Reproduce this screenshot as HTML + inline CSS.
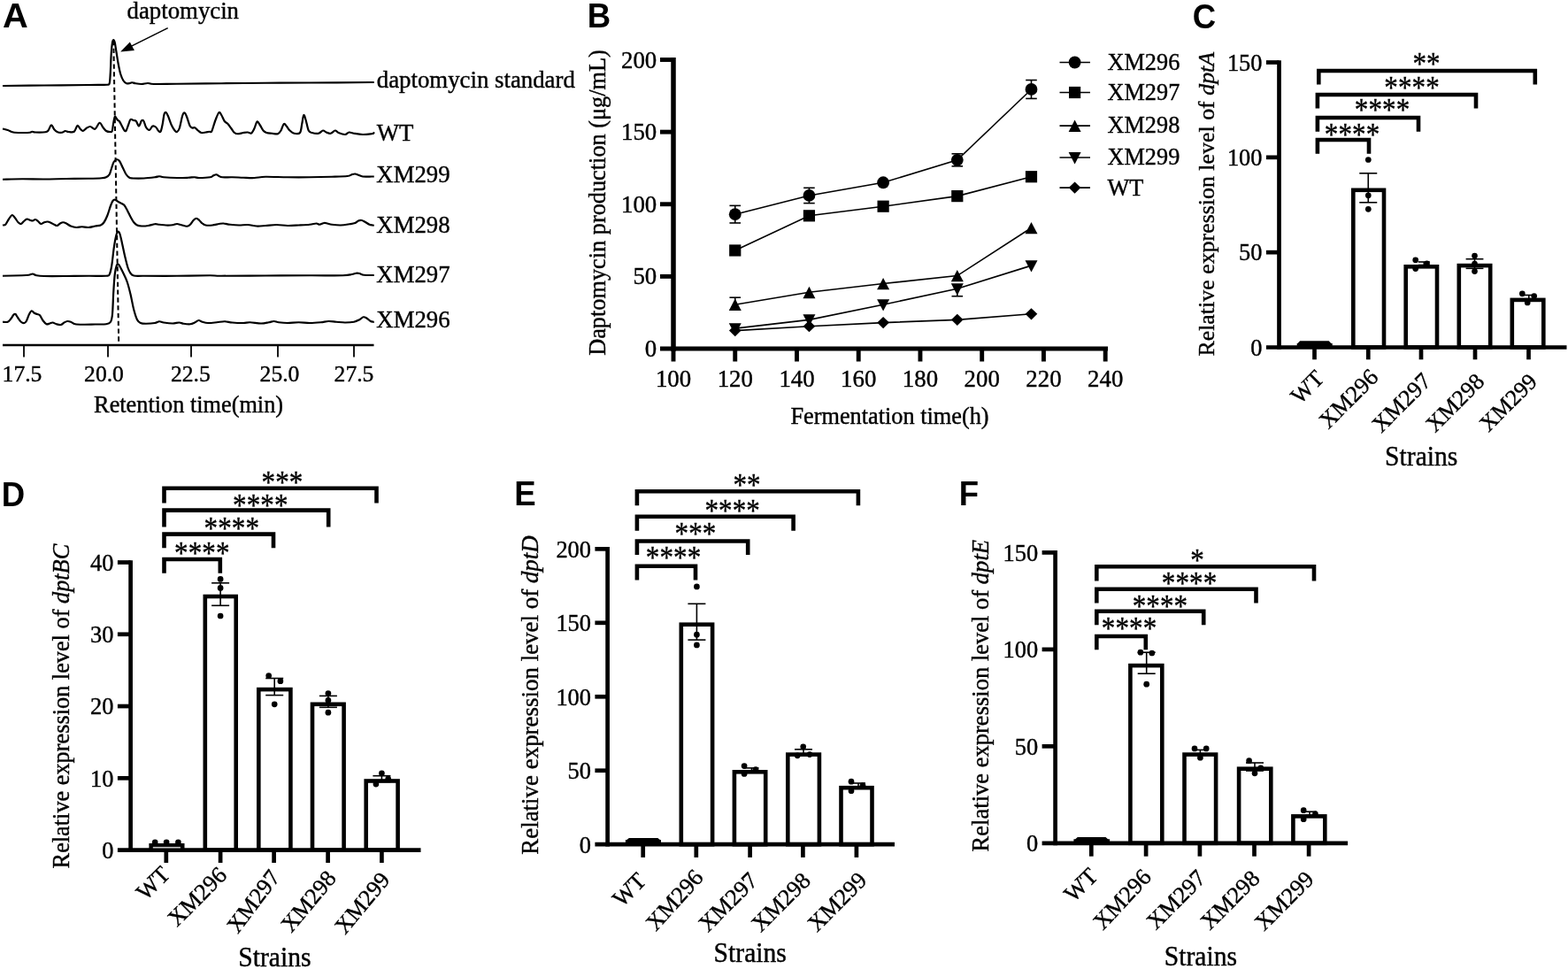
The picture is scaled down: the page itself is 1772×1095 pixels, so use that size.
<!DOCTYPE html>
<html lang="en"><head><meta charset="utf-8"><title>Daptomycin production and dpt gene expression</title>
<style>
html,body{margin:0;padding:0;background:#fff;}
svg{display:block;}
.s{font-family:"Liberation Serif","Times New Roman",Times,serif;fill:#000000;stroke:#000000;stroke-width:0.4px;}
.b{font-family:"Liberation Sans",Arial,Helvetica,sans-serif;font-weight:bold;fill:#000000;stroke:none;}
.i{font-style:italic;}
</style></head><body>
<svg width="1772" height="1095" viewBox="0 0 1772 1095" stroke="#000000" fill="none">
<rect x="0" y="0" width="1772" height="1095" fill="#ffffff" stroke="none"/>
<text class="b" transform="translate(3.1 30.8) scale(1.04 1)" font-size="38.3">A</text>
<text class="b" transform="translate(663.75 31.0) scale(0.955 1)" font-size="38.3">B</text>
<text class="b" transform="translate(1347.65 31.6) scale(0.955 1)" font-size="38.3">C</text>
<text class="b" transform="translate(1.8499999999999999 571.5) scale(0.955 1)" font-size="38.3">D</text>
<text class="b" transform="translate(581.15 571.3) scale(0.955 1)" font-size="38.3">E</text>
<text class="b" transform="translate(1083.75 571.3) scale(0.955 1)" font-size="38.3">F</text>
<g id="panelA">
<path d="M3 97C10.83 96.92 33.83 96.67 50 96.5C66.17 96.33 88.12 96.12 100 96C111.88 95.88 117.29 96.08 121.25 95.75C123.75 95.54 123.17 96.21 123.75 94C124.33 91.79 124.42 88.17 124.75 82.5C125.08 76.83 125.38 65.75 125.75 60C126.12 54.25 126.58 50.5 127 48C127.42 45.5 127.79 45 128.25 45C128.71 45 129.21 45.71 129.75 48C130.29 50.29 130.83 54.67 131.5 58.75C132.17 62.83 132.96 68.33 133.75 72.5C134.54 76.67 135.29 80.62 136.25 83.75C137.21 86.88 138.38 89.5 139.5 91.25C140.62 93 141.75 93.79 143 94.25C144.25 94.71 145.92 94.17 147 94C148.08 93.83 148.5 93.21 149.5 93.25C150.5 93.29 151.25 93.96 153 94.25C154.75 94.54 157.67 95.04 160 95C162.33 94.96 164.71 94 167 94C169.29 94 168.25 94.88 173.75 95C179.25 95.12 187.29 94.88 200 94.75C212.71 94.62 233.33 94.42 250 94.25C266.67 94.08 283.33 93.88 300 93.75C316.67 93.62 330 93.62 350 93.5C370 93.38 407.88 93.08 420 93C422.75 92.98 422.29 93 422.75 93" fill="none" stroke-width="2.2" stroke-linejoin="round" stroke-linecap="butt"/>
<path d="M3 145.5C3.96 145.75 6.75 146.33 8.75 147C10.75 147.67 12.29 149 15 149.5C17.71 150 21.88 149.96 25 150C28.12 150.04 31.88 149.96 33.75 149.75C35.62 149.54 35.21 148.79 36.25 148.75C37.29 148.71 37.5 149.42 40 149.5C42.5 149.58 48.83 149.58 51.25 149.25C53.67 148.92 53.38 148.83 54.5 147.5C55.62 146.17 56.88 141.46 58 141.25C59.12 141.04 60.08 144.92 61.25 146.25C62.42 147.58 63.54 148.67 65 149.25C66.46 149.83 68.54 149.96 70 149.75C71.46 149.54 72.5 148.12 73.75 148C75 147.88 75.83 148.88 77.5 149C79.17 149.12 82.08 149.92 83.75 148.75C85.42 147.58 86.33 142.5 87.5 142C88.67 141.5 89.71 144.75 90.75 145.75C91.79 146.75 92.62 148.12 93.75 148C94.88 147.88 96.12 145.83 97.5 145C98.88 144.17 100.33 142.88 102 143C103.67 143.12 105.75 146.46 107.5 145.75C109.25 145.04 111.04 139.08 112.5 138.75C113.96 138.42 115 142.21 116.25 143.75C117.5 145.29 118.62 147.12 120 148C121.38 148.88 123.38 149 124.5 149C125.62 149 126.17 149.5 126.75 148C127.33 146.5 127.5 142.67 128 140C128.5 137.33 129.21 133.12 129.75 132C130.29 130.88 130.71 132.62 131.25 133.25C131.79 133.88 132.38 135.08 133 135.75C133.62 136.42 134.17 136.08 135 137.25C135.83 138.42 137.08 141.08 138 142.75C138.92 144.42 139.75 146.42 140.5 147.25C141.25 148.08 141.75 148.75 142.5 147.75C143.25 146.75 144.17 143.38 145 141.25C145.83 139.12 146.54 135.88 147.5 135C148.46 134.12 149.71 135.71 150.75 136C151.79 136.29 152.71 135.67 153.75 136.75C154.79 137.83 155.96 142.58 157 142.5C158.04 142.42 159.08 137.17 160 136.25C160.92 135.33 161.67 135.75 162.5 137C163.33 138.25 163.96 142.08 165 143.75C166.04 145.42 167.5 147.21 168.75 147C170 146.79 171.25 143.04 172.5 142.5C173.75 141.96 175.21 142.92 176.25 143.75C177.29 144.58 177.88 146.67 178.75 147.5C179.62 148.33 180.67 150 181.5 148.75C182.33 147.5 183.08 143.25 183.75 140C184.42 136.75 184.88 131.42 185.5 129.25C186.12 127.08 186.75 126.67 187.5 127C188.25 127.33 188.96 128.88 190 131.25C191.04 133.62 192.5 138.54 193.75 141.25C195 143.96 196.46 146.21 197.5 147.5C198.54 148.79 199.12 149.42 200 149C200.88 148.58 201.71 148.08 202.75 145C203.79 141.92 205.25 133.42 206.25 130.5C207.25 127.58 207.92 127.17 208.75 127.5C209.58 127.83 210.29 130.08 211.25 132.5C212.21 134.92 213.5 140 214.5 142C215.5 144 216.29 144.12 217.25 144.5C218.21 144.88 219.17 143.75 220.25 144.25C221.33 144.75 222.54 146.54 223.75 147.5C224.96 148.46 226.04 149.67 227.5 150C228.96 150.33 231.04 149.71 232.5 149.5C233.96 149.29 235.17 148.88 236.25 148.75C237.33 148.62 238.17 149.79 239 148.75C239.83 147.71 240.46 144.79 241.25 142.5C242.04 140.21 242.71 137.58 243.75 135C244.79 132.42 246.42 127.83 247.5 127C248.58 126.17 249.21 128.33 250.25 130C251.29 131.67 252.54 135.33 253.75 137C254.96 138.67 256.25 138.67 257.5 140C258.75 141.33 260 143.33 261.25 145C262.5 146.67 263.75 148.96 265 150C266.25 151.04 267.08 151.25 268.75 151.25C270.42 151.25 273.12 150.29 275 150C276.88 149.71 278.5 149.42 280 149.5C281.5 149.58 282.75 151.25 284 150.5C285.25 149.75 286.42 147.17 287.5 145C288.58 142.83 289.46 138.12 290.5 137.5C291.54 136.88 292.58 139.58 293.75 141.25C294.92 142.92 296.25 146.04 297.5 147.5C298.75 148.96 299.58 149.46 301.25 150C302.92 150.54 305.38 150.54 307.5 150.75C309.62 150.96 312.33 151.79 314 151.25C315.67 150.71 316.38 149.38 317.5 147.5C318.62 145.62 319.71 140.83 320.75 140C321.79 139.17 322.62 141.25 323.75 142.5C324.88 143.75 326.04 146.12 327.5 147.5C328.96 148.88 330.58 150.33 332.5 150.75C334.42 151.17 337.54 151.79 339 150C340.46 148.21 340.54 143.33 341.25 140C341.96 136.67 342.5 130.62 343.25 130C344 129.38 344.83 133.33 345.75 136.25C346.67 139.17 347.62 145.21 348.75 147.5C349.88 149.79 350.62 149.46 352.5 150C354.38 150.54 357.92 151.17 360 150.75C362.08 150.33 363.54 147.71 365 147.5C366.46 147.29 367.29 148.96 368.75 149.5C370.21 150.04 372.08 151.08 373.75 150.75C375.42 150.42 377.29 147.62 378.75 147.5C380.21 147.38 380.62 149.25 382.5 150C384.38 150.75 388 152.08 390 152C392 151.92 392.83 149.71 394.5 149.5C396.17 149.29 397.42 150.33 400 150.75C402.58 151.17 406.67 151.92 410 152C413.33 152.08 418 151.46 420 151.25C422 151.04 421.54 151.08 422 150.75C422.46 150.42 422.62 149.5 422.75 149.25" fill="none" stroke-width="2.2" stroke-linejoin="round" stroke-linecap="butt"/>
<path d="M3 202.75C6.67 202.67 17.17 202.29 25 202.25C32.83 202.21 41.67 202.54 50 202.5C58.33 202.46 66.67 202.12 75 202C83.33 201.88 93.33 201.88 100 201.75C106.67 201.62 111.67 201.5 115 201.25C118.33 201 118.54 200.96 120 200.25C121.46 199.54 122.71 198.79 123.75 197C124.79 195.21 125.42 191.88 126.25 189.5C127.08 187.12 127.79 184.29 128.75 182.75C129.71 181.21 130.96 180.38 132 180.25C133.04 180.12 133.88 180.46 135 182C136.12 183.54 137.5 187 138.75 189.5C140 192 141.25 195.12 142.5 197C143.75 198.88 145 200 146.25 200.75C147.5 201.5 147.29 201.38 150 201.5C152.71 201.62 158.33 201.71 162.5 201.5C166.67 201.29 172.08 200.62 175 200.25C177.92 199.88 178.33 199.25 180 199.25C181.67 199.25 181.67 199.96 185 200.25C188.33 200.54 195.42 200.92 200 201C204.58 201.08 209.17 200.88 212.5 200.75C215.83 200.62 217.92 200.21 220 200.25C222.08 200.29 222.08 201 225 201C227.92 201 234.79 200.71 237.5 200.25C240.21 199.79 240.08 198.75 241.25 198.25C242.42 197.75 243.46 197.12 244.5 197.25C245.54 197.38 246.38 198.5 247.5 199C248.62 199.5 248.75 200.04 251.25 200.25C253.75 200.46 258.54 200.17 262.5 200.25C266.46 200.33 270.83 200.62 275 200.75C279.17 200.88 283.33 201.17 287.5 201C291.67 200.83 293.75 199.88 300 199.75C306.25 199.62 316.67 200.17 325 200.25C333.33 200.33 341.67 200.33 350 200.25C358.33 200.17 367.92 199.96 375 199.75C382.08 199.54 388.75 199.42 392.5 199C396.25 198.58 396.04 197.67 397.5 197.25C398.96 196.83 400 196.42 401.25 196.5C402.5 196.58 403.54 197.25 405 197.75C406.46 198.25 407.5 199.21 410 199.5C412.5 199.79 417.88 199.5 420 199.5C422.12 199.5 422.29 199.5 422.75 199.5" fill="none" stroke-width="2.2" stroke-linejoin="round" stroke-linecap="butt"/>
<path d="M3 254.5C3.54 254.38 5.08 254.92 6.25 253.75C7.42 252.58 8.75 249.29 10 247.5C11.25 245.71 12.58 243.21 13.75 243C14.92 242.79 15.88 244.88 17 246.25C18.12 247.62 19.38 250.12 20.5 251.25C21.62 252.38 22.67 253.21 23.75 253C24.83 252.79 25.88 250.92 27 250C28.12 249.08 29.38 247.71 30.5 247.5C31.62 247.29 32.67 248.42 33.75 248.75C34.83 249.08 35.96 249.62 37 249.5C38.04 249.38 39 247.92 40 248C41 248.08 41.96 249.17 43 250C44.04 250.83 45.08 252.79 46.25 253C47.42 253.21 48.75 251.67 50 251.25C51.25 250.83 52.5 250.42 53.75 250.5C55 250.58 56.25 251.21 57.5 251.75C58.75 252.29 60.08 253.21 61.25 253.75C62.42 254.29 63.38 255.21 64.5 255C65.62 254.79 66.88 253.12 68 252.5C69.12 251.88 70.08 251.25 71.25 251.25C72.42 251.25 73.54 251.79 75 252.5C76.46 253.21 78.12 254.75 80 255.5C81.88 256.25 84.17 256.88 86.25 257C88.33 257.12 90.21 256.25 92.5 256.25C94.79 256.25 97.5 257.12 100 257C102.5 256.88 105.21 255.92 107.5 255.5C109.79 255.08 112.08 255.21 113.75 254.5C115.42 253.79 116.25 253.04 117.5 251.25C118.75 249.46 120 246.88 121.25 243.75C122.5 240.62 123.96 235.29 125 232.5C126.04 229.71 126.67 228.12 127.5 227C128.33 225.88 128.96 225.58 130 225.75C131.04 225.92 132.5 227.29 133.75 228C135 228.71 136.38 229.33 137.5 230C138.62 230.67 139.46 230.75 140.5 232C141.54 233.25 142.58 235.33 143.75 237.5C144.92 239.67 146.25 242.71 147.5 245C148.75 247.29 150 249.67 151.25 251.25C152.5 252.83 153.54 253.79 155 254.5C156.46 255.21 157.92 255.42 160 255.5C162.08 255.58 165 255.38 167.5 255C170 254.62 172.92 253.46 175 253.25C177.08 253.04 177.92 253.54 180 253.75C182.08 253.96 185 254.42 187.5 254.5C190 254.58 192.92 254.5 195 254.25C197.08 254 198.33 253 200 253C201.67 253 203.12 253.79 205 254.25C206.88 254.71 209.58 255.83 211.25 255.75C212.92 255.67 213.75 254.92 215 253.75C216.25 252.58 217.58 249.92 218.75 248.75C219.92 247.58 220.96 246.75 222 246.75C223.04 246.75 223.88 247.79 225 248.75C226.12 249.71 227.5 251.54 228.75 252.5C230 253.46 230.62 254.17 232.5 254.5C234.38 254.83 237.5 254.75 240 254.5C242.5 254.25 245.42 253.33 247.5 253C249.58 252.67 250.42 252.38 252.5 252.5C254.58 252.62 257.08 253.42 260 253.75C262.92 254.08 266.67 254.46 270 254.5C273.33 254.54 276.67 253.83 280 254C283.33 254.17 286.67 255.33 290 255.5C293.33 255.67 296.25 255.25 300 255C303.75 254.75 308.33 254 312.5 254C316.67 254 320.83 254.92 325 255C329.17 255.08 333.33 254.71 337.5 254.5C341.67 254.29 346.67 254.08 350 253.75C353.33 253.42 355.62 252.5 357.5 252.5C359.38 252.5 359.79 253.83 361.25 253.75C362.71 253.67 364.79 252.21 366.25 252C367.71 251.79 368.54 252.21 370 252.5C371.46 252.79 372.5 253.42 375 253.75C377.5 254.08 381.67 254.58 385 254.5C388.33 254.42 392.29 253.67 395 253.25C397.71 252.83 399.58 252.62 401.25 252C402.92 251.38 403.75 250 405 249.5C406.25 249 407.5 248.79 408.75 249C410 249.21 411.04 249.96 412.5 250.75C413.96 251.54 416.04 253.12 417.5 253.75C418.96 254.38 420.38 254.33 421.25 254.5C422.12 254.67 422.5 254.71 422.75 254.75" fill="none" stroke-width="2.2" stroke-linejoin="round" stroke-linecap="butt"/>
<path d="M3 311.75C6.67 311.67 20.08 311.42 25 311.25C29.92 311.08 30.5 311.04 32.5 310.75C34.5 310.46 35.54 309.42 37 309.5C38.46 309.58 39.08 310.83 41.25 311.25C43.42 311.67 44.38 311.88 50 312C55.62 312.12 66.67 312.04 75 312C83.33 311.96 92.5 311.79 100 311.75C107.5 311.71 116.04 312.04 120 311.75C123.75 311.47 122.71 311.96 123.75 310C124.79 308.04 125.42 305 126.25 300C127.08 295 127.92 285.62 128.75 280C129.58 274.38 130.5 269.29 131.25 266.25C132 263.21 132.54 262.04 133.25 261.75C133.96 261.46 134.71 262.29 135.5 264.5C136.29 266.71 137.04 270.75 138 275C138.96 279.25 140.17 285.42 141.25 290C142.33 294.58 143.46 299.38 144.5 302.5C145.54 305.62 146.38 307.25 147.5 308.75C148.62 310.25 148.75 311 151.25 311.5C153.75 312 154.38 311.71 162.5 311.75C170.62 311.79 187.5 311.83 200 311.75C212.5 311.67 229.17 311.25 237.5 311.25C245.83 311.25 239.58 311.71 250 311.75C260.42 311.79 283.33 311.58 300 311.5C316.67 311.42 335.42 311.29 350 311.25C364.58 311.21 379.58 311.46 387.5 311.25C395.42 311.04 395 310.42 397.5 310C400 309.58 401.04 308.92 402.5 308.75C403.96 308.58 404.79 308.67 406.25 309C407.71 309.33 408.75 310.42 411.25 310.75C413.75 311.08 419.33 310.96 421.25 311C422.75 311.03 422.5 311 422.75 311" fill="none" stroke-width="2.2" stroke-linejoin="round" stroke-linecap="butt"/>
<path d="M3 363.75C3.96 363.75 7.17 364.38 8.75 363.75C10.33 363.12 11.38 361.38 12.5 360C13.62 358.62 14.67 356.33 15.5 355.5C16.33 354.67 16.75 354.46 17.5 355C18.25 355.54 18.96 357.29 20 358.75C21.04 360.21 22.5 362.71 23.75 363.75C25 364.79 26.46 365.21 27.5 365C28.54 364.79 29.08 364.17 30 362.5C30.92 360.83 32.04 356.88 33 355C33.96 353.12 34.79 351.46 35.75 351.25C36.71 351.04 37.71 353.12 38.75 353.75C39.79 354.38 40.96 354.58 42 355C43.04 355.42 43.88 355 45 356.25C46.12 357.5 47.5 360.83 48.75 362.5C50 364.17 51.25 365.75 52.5 366.25C53.75 366.75 55.08 365.79 56.25 365.5C57.42 365.21 58.25 364.38 59.5 364.5C60.75 364.62 62.21 365.83 63.75 366.25C65.29 366.67 67.29 367.29 68.75 367C70.21 366.71 71.25 365.17 72.5 364.5C73.75 363.83 75 363.12 76.25 363C77.5 362.88 78.54 363.21 80 363.75C81.46 364.29 82.5 365.75 85 366.25C87.5 366.75 91.25 366.71 95 366.75C98.75 366.79 103.33 366.58 107.5 366.5C111.67 366.42 117.08 366.71 120 366.25C122.92 365.79 123.83 365.62 125 363.75C126.17 361.88 126.46 360.62 127 355C127.54 349.38 127.79 337.5 128.25 330C128.71 322.5 129.17 315 129.75 310C130.33 305 131.08 301.88 131.75 300C132.42 298.12 133 298.33 133.75 298.75C134.5 299.17 135.21 300.62 136.25 302.5C137.29 304.38 138.75 307.29 140 310C141.25 312.71 142.5 315 143.75 318.75C145 322.5 146.25 327.29 147.5 332.5C148.75 337.71 150 345.21 151.25 350C152.5 354.79 153.75 358.75 155 361.25C156.25 363.75 157.08 364.25 158.75 365C160.42 365.75 162.29 365.75 165 365.75C167.71 365.75 172.5 365.42 175 365C177.5 364.58 178.33 363.33 180 363.25C181.67 363.17 182.5 364.12 185 364.5C187.5 364.88 192.08 365.5 195 365.5C197.92 365.5 200.42 364.46 202.5 364.5C204.58 364.54 205.42 365.46 207.5 365.75C209.58 366.04 212.92 366.46 215 366.25C217.08 366.04 218.42 365.21 220 364.5C221.58 363.79 223.04 362.12 224.5 362C225.96 361.88 227 363.25 228.75 363.75C230.5 364.25 232.29 364.92 235 365C237.71 365.08 241.88 364.54 245 364.25C248.12 363.96 250.83 363.21 253.75 363.25C256.67 363.29 258.96 364.21 262.5 364.5C266.04 364.79 271.67 365.04 275 365C278.33 364.96 279.17 364.17 282.5 364.25C285.83 364.33 291.46 365.5 295 365.5C298.54 365.5 301.33 364.67 303.75 364.25C306.17 363.83 307.62 363 309.5 363C311.38 363 312.42 363.92 315 364.25C317.58 364.58 321.25 365 325 365C328.75 365 333.33 364.25 337.5 364.25C341.67 364.25 345.83 365 350 365C354.17 365 358.96 364.58 362.5 364.25C366.04 363.92 368.33 363.08 371.25 363C374.17 362.92 376.88 363.5 380 363.75C383.12 364 386.67 364.5 390 364.5C393.33 364.5 397.29 364.29 400 363.75C402.71 363.21 404.46 362.17 406.25 361.25C408.04 360.33 409.29 358.46 410.75 358.25C412.21 358.04 413.67 359.21 415 360C416.33 360.79 417.58 362.38 418.75 363C419.92 363.62 421.33 363.62 422 363.75C422.67 363.88 422.62 363.75 422.75 363.75" fill="none" stroke-width="2.2" stroke-linejoin="round" stroke-linecap="butt"/>
<line x1="128.3" y1="46" x2="134.2" y2="388" stroke-width="2" stroke-dasharray="5.3 3.5"/>
<line x1="189.7" y1="31.6" x2="145" y2="53.9" stroke-width="1.6"/>
<polygon points="136.1,58.4 151.9,57 146.8,47.4" fill="#000000" stroke="none"/>
<line x1="3" y1="390" x2="422.5" y2="390" stroke-width="2.3"/>
<line x1="27" y1="390" x2="27" y2="403.5" stroke-width="1.8"/>
<line x1="122" y1="390" x2="122" y2="403.5" stroke-width="1.8"/>
<line x1="216" y1="390" x2="216" y2="403.5" stroke-width="1.8"/>
<line x1="314" y1="390" x2="314" y2="403.5" stroke-width="1.8"/>
<line x1="400" y1="390" x2="400" y2="403.5" stroke-width="1.8"/>
<text class="s" x="25" y="430.6" font-size="25.6" text-anchor="middle">17.5</text>
<text class="s" x="117.5" y="430.6" font-size="25.6" text-anchor="middle">20.0</text>
<text class="s" x="215.4" y="430.6" font-size="25.6" text-anchor="middle">22.5</text>
<text class="s" x="316" y="430.6" font-size="25.6" text-anchor="middle">25.0</text>
<text class="s" x="400" y="430.6" font-size="25.6" text-anchor="middle">27.5</text>
<text class="s" x="213.1" y="466.2" font-size="26.3" text-anchor="middle">Retention time(min)</text>
<text class="s" x="143.5" y="21.1" font-size="26.8">daptomycin</text>
<text class="s" x="425.8" y="99.2" font-size="26.8">daptomycin standard</text>
<text class="s" x="425.8" y="159.3" font-size="26.8">WT</text>
<text class="s" x="425.3" y="205.6" font-size="26.8">XM299</text>
<text class="s" x="425.3" y="262.8" font-size="26.8">XM298</text>
<text class="s" x="425.3" y="319.2" font-size="26.8">XM297</text>
<text class="s" x="425.3" y="370.3" font-size="26.8">XM296</text>
</g>
<g id="panelB">
<line x1="761" y1="65.05" x2="761" y2="396.75" stroke-width="5.5"/>
<line x1="746" y1="394" x2="1252" y2="394" stroke-width="5.1"/>
<line x1="746" y1="312.38" x2="761" y2="312.38" stroke-width="4.9"/>
<line x1="746" y1="230.75" x2="761" y2="230.75" stroke-width="4.9"/>
<line x1="746" y1="149.12" x2="761" y2="149.12" stroke-width="4.9"/>
<line x1="746" y1="67.5" x2="761" y2="67.5" stroke-width="4.9"/>
<line x1="761" y1="394" x2="761" y2="408.5" stroke-width="4.9"/>
<line x1="830.74" y1="394" x2="830.74" y2="408.5" stroke-width="4.9"/>
<line x1="900.48" y1="394" x2="900.48" y2="408.5" stroke-width="4.9"/>
<line x1="970.22" y1="394" x2="970.22" y2="408.5" stroke-width="4.9"/>
<line x1="1039.96" y1="394" x2="1039.96" y2="408.5" stroke-width="4.9"/>
<line x1="1109.7" y1="394" x2="1109.7" y2="408.5" stroke-width="4.9"/>
<line x1="1179.44" y1="394" x2="1179.44" y2="408.5" stroke-width="4.9"/>
<line x1="1249.18" y1="394" x2="1249.18" y2="408.5" stroke-width="4.9"/>
<text class="s" x="742.2" y="403" font-size="26.8" text-anchor="end">0</text>
<text class="s" x="742.2" y="321.38" font-size="26.8" text-anchor="end">50</text>
<text class="s" x="742.2" y="239.75" font-size="26.8" text-anchor="end">100</text>
<text class="s" x="742.2" y="158.12" font-size="26.8" text-anchor="end">150</text>
<text class="s" x="742.2" y="76.5" font-size="26.8" text-anchor="end">200</text>
<text class="s" x="761" y="437.4" font-size="26.8" text-anchor="middle">100</text>
<text class="s" x="830.74" y="437.4" font-size="26.8" text-anchor="middle">120</text>
<text class="s" x="900.48" y="437.4" font-size="26.8" text-anchor="middle">140</text>
<text class="s" x="970.22" y="437.4" font-size="26.8" text-anchor="middle">160</text>
<text class="s" x="1039.96" y="437.4" font-size="26.8" text-anchor="middle">180</text>
<text class="s" x="1109.7" y="437.4" font-size="26.8" text-anchor="middle">200</text>
<text class="s" x="1179.44" y="437.4" font-size="26.8" text-anchor="middle">220</text>
<text class="s" x="1249.18" y="437.4" font-size="26.8" text-anchor="middle">240</text>
<text class="s" x="1005.5" y="478.5" font-size="26.3" text-anchor="middle">Fermentation time(h)</text>
<text class="s" transform="translate(683.5 229) rotate(-90)" font-size="26.3" text-anchor="middle">Daptomycin production (μg/mL)</text>
<polyline points="830.74,242.18 914.43,220.95 998.12,206.26 1081.8,180.8 1165.49,100.97" stroke-width="1.6" fill="none"/>
<line x1="830.74" y1="232.38" x2="830.74" y2="251.97" stroke-width="1.6"/>
<line x1="824.44" y1="232.38" x2="837.04" y2="232.38" stroke-width="1.6"/>
<line x1="824.44" y1="251.97" x2="837.04" y2="251.97" stroke-width="1.6"/>
<line x1="914.43" y1="212.3" x2="914.43" y2="229.61" stroke-width="1.6"/>
<line x1="908.13" y1="212.3" x2="920.73" y2="212.3" stroke-width="1.6"/>
<line x1="908.13" y1="229.61" x2="920.73" y2="229.61" stroke-width="1.6"/>
<line x1="1081.8" y1="173.78" x2="1081.8" y2="187.82" stroke-width="1.6"/>
<line x1="1075.5" y1="173.78" x2="1088.1" y2="173.78" stroke-width="1.6"/>
<line x1="1075.5" y1="187.82" x2="1088.1" y2="187.82" stroke-width="1.6"/>
<line x1="1165.49" y1="90.52" x2="1165.49" y2="111.41" stroke-width="1.6"/>
<line x1="1159.19" y1="90.52" x2="1171.79" y2="90.52" stroke-width="1.6"/>
<line x1="1159.19" y1="111.41" x2="1171.79" y2="111.41" stroke-width="1.6"/>
<circle cx="830.74" cy="242.18" r="6.9" fill="#000000" stroke="none"/>
<circle cx="914.43" cy="220.95" r="6.9" fill="#000000" stroke="none"/>
<circle cx="998.12" cy="206.26" r="6.9" fill="#000000" stroke="none"/>
<circle cx="1081.8" cy="180.8" r="6.9" fill="#000000" stroke="none"/>
<circle cx="1165.49" cy="100.97" r="6.9" fill="#000000" stroke="none"/>
<polyline points="830.74,282.99 914.43,243.81 998.12,233.2 1081.8,221.61 1165.49,199.73" stroke-width="1.6" fill="none"/>
<rect x="824.14" y="276.39" width="13.2" height="13.2" fill="#000000" stroke="none"/>
<rect x="907.83" y="237.21" width="13.2" height="13.2" fill="#000000" stroke="none"/>
<rect x="991.52" y="226.6" width="13.2" height="13.2" fill="#000000" stroke="none"/>
<rect x="1075.2" y="215.01" width="13.2" height="13.2" fill="#000000" stroke="none"/>
<rect x="1158.89" y="193.13" width="13.2" height="13.2" fill="#000000" stroke="none"/>
<polyline points="830.74,344.21 914.43,330.33 998.12,320.54 1081.8,311.56 1165.49,257.52" stroke-width="1.6" fill="none"/>
<line x1="830.74" y1="336.21" x2="830.74" y2="344.21" stroke-width="1.6"/>
<line x1="824.44" y1="336.21" x2="837.04" y2="336.21" stroke-width="1.6"/>
<polygon points="830.74,337.61 837.74,351.01 823.74,351.01" fill="#000000" stroke="none"/>
<polygon points="914.43,323.73 921.43,337.13 907.43,337.13" fill="#000000" stroke="none"/>
<polygon points="998.12,313.94 1005.12,327.34 991.12,327.34" fill="#000000" stroke="none"/>
<polygon points="1081.8,304.96 1088.8,318.36 1074.8,318.36" fill="#000000" stroke="none"/>
<polygon points="1165.49,250.92 1172.49,264.32 1158.49,264.32" fill="#000000" stroke="none"/>
<polyline points="830.74,371.14 914.43,361.35 998.12,344.21 1081.8,326.25 1165.49,300.13" stroke-width="1.6" fill="none"/>
<line x1="1081.8" y1="326.25" x2="1081.8" y2="334.74" stroke-width="1.6"/>
<line x1="1075.5" y1="334.74" x2="1088.1" y2="334.74" stroke-width="1.6"/>
<polygon points="830.74,378.54 837.74,365.14 823.74,365.14" fill="#000000" stroke="none"/>
<polygon points="914.43,368.75 921.43,355.35 907.43,355.35" fill="#000000" stroke="none"/>
<polygon points="998.12,351.61 1005.12,338.21 991.12,338.21" fill="#000000" stroke="none"/>
<polygon points="1081.8,333.65 1088.8,320.25 1074.8,320.25" fill="#000000" stroke="none"/>
<polygon points="1165.49,307.53 1172.49,294.13 1158.49,294.13" fill="#000000" stroke="none"/>
<polyline points="830.74,373.59 914.43,368.7 998.12,364.62 1081.8,361.35 1165.49,354.82" stroke-width="1.6" fill="none"/>
<polygon points="830.74,366.99 837.54,373.59 830.74,380.19 823.94,373.59" fill="#000000" stroke="none"/>
<polygon points="914.43,362.1 921.23,368.7 914.43,375.3 907.63,368.7" fill="#000000" stroke="none"/>
<polygon points="998.12,358.01 1004.92,364.62 998.12,371.22 991.32,364.62" fill="#000000" stroke="none"/>
<polygon points="1081.8,354.75 1088.6,361.35 1081.8,367.95 1075,361.35" fill="#000000" stroke="none"/>
<polygon points="1165.49,348.22 1172.29,354.82 1165.49,361.42 1158.69,354.82" fill="#000000" stroke="none"/>
<line x1="1197.5" y1="70.5" x2="1232" y2="70.5" stroke-width="1.6"/>
<circle cx="1214.6" cy="70.5" r="6.9" fill="#000000" stroke="none"/>
<text class="s" x="1251.5" y="79" font-size="26.3">XM296</text>
<line x1="1197.5" y1="104.5" x2="1232" y2="104.5" stroke-width="1.6"/>
<rect x="1208" y="97.9" width="13.2" height="13.2" fill="#000000" stroke="none"/>
<text class="s" x="1251.5" y="112.8" font-size="26.3">XM297</text>
<line x1="1197.5" y1="142.1" x2="1232" y2="142.1" stroke-width="1.6"/>
<polygon points="1214.6,135.5 1221.6,148.9 1207.6,148.9" fill="#000000" stroke="none"/>
<text class="s" x="1251.5" y="150.2" font-size="26.3">XM298</text>
<line x1="1197.5" y1="178" x2="1232" y2="178" stroke-width="1.6"/>
<polygon points="1214.6,185.4 1221.6,172 1207.6,172" fill="#000000" stroke="none"/>
<text class="s" x="1251.5" y="186.2" font-size="26.3">XM299</text>
<line x1="1197.5" y1="212.1" x2="1232" y2="212.1" stroke-width="1.6"/>
<polygon points="1214.6,205.5 1221.4,212.1 1214.6,218.7 1207.8,212.1" fill="#000000" stroke="none"/>
<text class="s" x="1251.5" y="220.6" font-size="26.3">WT</text>
</g>
<g id="panelC">
<line x1="1445.5" y1="68.15" x2="1445.5" y2="394.85" stroke-width="4.7"/>
<line x1="1430.9" y1="392.5" x2="1770.5" y2="392.5" stroke-width="4.7"/>
<line x1="1430.9" y1="285.16" x2="1445.5" y2="285.16" stroke-width="4.7"/>
<line x1="1430.9" y1="177.83" x2="1445.5" y2="177.83" stroke-width="4.7"/>
<line x1="1430.9" y1="70.5" x2="1445.5" y2="70.5" stroke-width="4.7"/>
<line x1="1485.5" y1="392.5" x2="1485.5" y2="406.3" stroke-width="4.7"/>
<line x1="1546.25" y1="392.5" x2="1546.25" y2="406.3" stroke-width="4.7"/>
<line x1="1606" y1="392.5" x2="1606" y2="406.3" stroke-width="4.7"/>
<line x1="1667" y1="392.5" x2="1667" y2="406.3" stroke-width="4.7"/>
<line x1="1727.5" y1="392.5" x2="1727.5" y2="406.3" stroke-width="4.7"/>
<text class="s" x="1426.5" y="401.8" font-size="26.4" text-anchor="end">0</text>
<text class="s" x="1426.5" y="294.46" font-size="26.4" text-anchor="end">50</text>
<text class="s" x="1426.5" y="187.13" font-size="26.4" text-anchor="end">100</text>
<text class="s" x="1426.5" y="79.8" font-size="26.4" text-anchor="end">150</text>
<text class="s" transform="translate(1372.3 230.75) rotate(-90)" font-size="25.9" text-anchor="middle">Relative expression level of <tspan class="i">dptA</tspan></text>
<text class="s" transform="translate(1497.7 429.1) rotate(-45)" font-size="26" text-anchor="end">WT</text>
<text class="s" transform="translate(1559.05 427.8) rotate(-45)" font-size="26.3" text-anchor="end">XM296</text>
<text class="s" transform="translate(1618.8 432.3) rotate(-45)" font-size="26.3" text-anchor="end">XM297</text>
<text class="s" transform="translate(1678.9 432.6) rotate(-45)" font-size="26" text-anchor="end">XM298</text>
<text class="s" transform="translate(1738.6 432.6) rotate(-45)" font-size="25.6" text-anchor="end">XM299</text>
<text class="s" transform="translate(1606.2 526.1) scale(1 1.1)" font-size="29.6" text-anchor="middle">Strains</text>
<polygon points="1465.7,392.5 1465.7,388 1466.5,388 1469.1,385.2 1501.7,385.2 1504.3,388 1505.7,388 1505.7,392.5" fill="#000000" stroke="none"/>
<circle cx="1546.3" cy="180.5" r="3.35" fill="#000000" stroke="none"/>
<circle cx="1546.3" cy="220.8" r="3.35" fill="#000000" stroke="none"/>
<circle cx="1546.3" cy="236.3" r="3.35" fill="#000000" stroke="none"/>
<line x1="1546.25" y1="195.8" x2="1546.25" y2="228.8" stroke-width="1.6"/>
<line x1="1536.25" y1="195.8" x2="1556.25" y2="195.8" stroke-width="1.6"/>
<line x1="1536.25" y1="228.8" x2="1556.25" y2="228.8" stroke-width="1.6"/>
<rect x="1529.3" y="214.8" width="34.7" height="177.7" fill="none" stroke-width="4.6"/>
<circle cx="1599.7" cy="293.8" r="3.35" fill="#000000" stroke="none"/>
<circle cx="1599.7" cy="303.6" r="3.35" fill="#000000" stroke="none"/>
<circle cx="1612.5" cy="297.8" r="3.35" fill="#000000" stroke="none"/>
<line x1="1609.3" y1="296" x2="1609.3" y2="299.5" stroke-width="1.6"/>
<line x1="1602.8" y1="296" x2="1615.8" y2="296" stroke-width="1.6"/>
<line x1="1602.8" y1="299.5" x2="1615.8" y2="299.5" stroke-width="1.6"/>
<rect x="1588.7" y="301.3" width="35.3" height="91.2" fill="none" stroke-width="4.6"/>
<circle cx="1666.5" cy="289" r="3.35" fill="#000000" stroke="none"/>
<circle cx="1666.5" cy="298" r="3.35" fill="#000000" stroke="none"/>
<circle cx="1666.5" cy="306.6" r="3.35" fill="#000000" stroke="none"/>
<line x1="1666.5" y1="292.7" x2="1666.5" y2="303.3" stroke-width="1.6"/>
<line x1="1656.6" y1="292.7" x2="1676.4" y2="292.7" stroke-width="1.6"/>
<line x1="1656.6" y1="303.3" x2="1676.4" y2="303.3" stroke-width="1.6"/>
<rect x="1648.8" y="300.1" width="35.4" height="92.4" fill="none" stroke-width="4.6"/>
<circle cx="1720.3" cy="331.8" r="3.35" fill="#000000" stroke="none"/>
<circle cx="1733.7" cy="334.5" r="3.35" fill="#000000" stroke="none"/>
<circle cx="1726.2" cy="342" r="3.35" fill="#000000" stroke="none"/>
<line x1="1727.8" y1="333.5" x2="1727.8" y2="338.5" stroke-width="1.6"/>
<line x1="1721.8" y1="333.5" x2="1733.8" y2="333.5" stroke-width="1.6"/>
<line x1="1721.8" y1="338.5" x2="1733.8" y2="338.5" stroke-width="1.6"/>
<rect x="1708.8" y="338.9" width="35.5" height="53.6" fill="none" stroke-width="4.6"/>
<polyline points="1490.3,95.5 1490.3,80 1734.8,80 1734.8,95.5" stroke-width="4.6" fill="none" stroke-linejoin="miter"/>
<text class="s" transform="translate(1612.04 83.6) scale(0.89 1)" font-size="34.9" text-anchor="middle" letter-spacing="0.1">**</text>
<polyline points="1488.9,122.5 1488.9,107 1668,107 1668,122.5" stroke-width="4.6" fill="none" stroke-linejoin="miter"/>
<text class="s" transform="translate(1595.54 111.1) scale(0.89 1)" font-size="34.9" text-anchor="middle" letter-spacing="0.1">****</text>
<polyline points="1488.9,148.8 1488.9,133 1603,133 1603,148.8" stroke-width="4.6" fill="none" stroke-linejoin="miter"/>
<text class="s" transform="translate(1562.04 136.1) scale(0.89 1)" font-size="34.9" text-anchor="middle" letter-spacing="0.1">****</text>
<polyline points="1488.9,173.8 1488.9,158 1547,158 1547,173.8" stroke-width="4.6" fill="none" stroke-linejoin="miter"/>
<text class="s" transform="translate(1528.04 163.6) scale(0.89 1)" font-size="34.9" text-anchor="middle" letter-spacing="0.1">****</text>
</g>
<g id="panelD">
<line x1="147.6" y1="633.15" x2="147.6" y2="962.95" stroke-width="4.7"/>
<line x1="132.9" y1="960.6" x2="475.5" y2="960.6" stroke-width="4.7"/>
<line x1="132.9" y1="879.33" x2="147.6" y2="879.33" stroke-width="4.7"/>
<line x1="132.9" y1="798.05" x2="147.6" y2="798.05" stroke-width="4.7"/>
<line x1="132.9" y1="716.78" x2="147.6" y2="716.78" stroke-width="4.7"/>
<line x1="132.9" y1="635.5" x2="147.6" y2="635.5" stroke-width="4.7"/>
<line x1="187.8" y1="960.6" x2="187.8" y2="975" stroke-width="4.7"/>
<line x1="249.1" y1="960.6" x2="249.1" y2="975" stroke-width="4.7"/>
<line x1="309.6" y1="960.6" x2="309.6" y2="975" stroke-width="4.7"/>
<line x1="370.6" y1="960.6" x2="370.6" y2="975" stroke-width="4.7"/>
<line x1="431.4" y1="960.6" x2="431.4" y2="975" stroke-width="4.7"/>
<text class="s" x="128.5" y="969.9" font-size="26.4" text-anchor="end">0</text>
<text class="s" x="128.5" y="888.62" font-size="26.4" text-anchor="end">10</text>
<text class="s" x="128.5" y="807.35" font-size="26.4" text-anchor="end">20</text>
<text class="s" x="128.5" y="726.08" font-size="26.4" text-anchor="end">30</text>
<text class="s" x="128.5" y="644.8" font-size="26.4" text-anchor="end">40</text>
<text class="s" transform="translate(78.4 798.1) rotate(-90)" font-size="26.3" text-anchor="middle">Relative expression level of <tspan class="i">dptBC</tspan></text>
<text class="s" transform="translate(193.5 989.6) rotate(-45)" font-size="26.3" text-anchor="end">WT</text>
<text class="s" transform="translate(257.9 990.5) rotate(-45)" font-size="26.3" text-anchor="end">XM296</text>
<text class="s" transform="translate(317.5 991.4) rotate(-53)" font-size="26" text-anchor="end">XM297</text>
<text class="s" transform="translate(381.15 993.1) rotate(-50)" font-size="26" text-anchor="end">XM298</text>
<text class="s" transform="translate(441.95 994.9) rotate(-50)" font-size="26" text-anchor="end">XM299</text>
<text class="s" transform="translate(310.4 1092.1) scale(1 1.1)" font-size="29.6" text-anchor="middle">Strains</text>
<rect x="168.4" y="953" width="40.1" height="7.6" fill="#000000" stroke="none"/>
<line stroke="#c8c8c8" x1="172.8" y1="957.7" x2="203.9" y2="957.7" stroke-width="1.6"/>
<circle cx="175.2" cy="951.8" r="3.35" fill="#000000" stroke="none"/>
<circle cx="188.1" cy="951.8" r="3.35" fill="#000000" stroke="none"/>
<circle cx="201.4" cy="951.8" r="3.35" fill="#000000" stroke="none"/>
<circle cx="249.1" cy="654.4" r="3.35" fill="#000000" stroke="none"/>
<circle cx="249.1" cy="664.4" r="3.35" fill="#000000" stroke="none"/>
<circle cx="249.1" cy="696" r="3.35" fill="#000000" stroke="none"/>
<line x1="249.1" y1="658.8" x2="249.1" y2="684.3" stroke-width="1.6"/>
<line x1="239.1" y1="658.8" x2="259.1" y2="658.8" stroke-width="1.6"/>
<line x1="239.1" y1="684.3" x2="259.1" y2="684.3" stroke-width="1.6"/>
<rect x="231.8" y="674" width="34.9" height="286.6" fill="none" stroke-width="4.6"/>
<circle cx="303.7" cy="763.6" r="3.35" fill="#000000" stroke="none"/>
<circle cx="316.9" cy="769.7" r="3.35" fill="#000000" stroke="none"/>
<circle cx="310.2" cy="795.8" r="3.35" fill="#000000" stroke="none"/>
<line x1="310.2" y1="766.5" x2="310.2" y2="785.6" stroke-width="1.6"/>
<line x1="300.2" y1="766.5" x2="320.2" y2="766.5" stroke-width="1.6"/>
<line x1="300.2" y1="785.6" x2="320.2" y2="785.6" stroke-width="1.6"/>
<rect x="292.3" y="779.1" width="36.1" height="181.5" fill="none" stroke-width="4.6"/>
<circle cx="370.9" cy="783.5" r="3.35" fill="#000000" stroke="none"/>
<circle cx="370.9" cy="791.4" r="3.35" fill="#000000" stroke="none"/>
<circle cx="370.9" cy="805.2" r="3.35" fill="#000000" stroke="none"/>
<line x1="370.9" y1="786.4" x2="370.9" y2="799.3" stroke-width="1.6"/>
<line x1="360.9" y1="786.4" x2="380.9" y2="786.4" stroke-width="1.6"/>
<line x1="360.9" y1="799.3" x2="380.9" y2="799.3" stroke-width="1.6"/>
<rect x="353" y="795.8" width="35.6" height="164.8" fill="none" stroke-width="4.6"/>
<circle cx="431.4" cy="873.8" r="3.35" fill="#000000" stroke="none"/>
<circle cx="424.9" cy="886.1" r="3.35" fill="#000000" stroke="none"/>
<circle cx="438.7" cy="880.2" r="3.35" fill="#000000" stroke="none"/>
<line x1="431.4" y1="876.7" x2="431.4" y2="883.5" stroke-width="1.6"/>
<line x1="421.4" y1="876.7" x2="441.4" y2="876.7" stroke-width="1.6"/>
<line x1="421.4" y1="883.5" x2="441.4" y2="883.5" stroke-width="1.6"/>
<rect x="413.7" y="882.5" width="35.9" height="78.1" fill="none" stroke-width="4.6"/>
<polyline points="185.5,568.4 185.5,551.7 425.5,551.7 425.5,568.4" stroke-width="4.6" fill="none" stroke-linejoin="miter"/>
<text class="s" transform="translate(319.04 557.1) scale(0.89 1)" font-size="34.9" text-anchor="middle" letter-spacing="0.1">***</text>
<polyline points="185.5,595.4 185.5,576.6 371.2,576.6 371.2,595.4" stroke-width="4.6" fill="none" stroke-linejoin="miter"/>
<text class="s" transform="translate(294.34 582.5) scale(0.89 1)" font-size="34.9" text-anchor="middle" letter-spacing="0.1">****</text>
<polyline points="185.5,619.2 185.5,603.6 309,603.6 309,619.2" stroke-width="4.6" fill="none" stroke-linejoin="miter"/>
<text class="s" transform="translate(261.84 608.9) scale(0.89 1)" font-size="34.9" text-anchor="middle" letter-spacing="0.1">****</text>
<polyline points="185.5,647.7 185.5,632 248.8,632 248.8,647.7" stroke-width="4.6" fill="none" stroke-linejoin="miter"/>
<text class="s" transform="translate(228.34 637.3) scale(0.89 1)" font-size="34.9" text-anchor="middle" letter-spacing="0.1">****</text>
</g>
<g id="panelE">
<line x1="686.6" y1="618" x2="686.6" y2="956.55" stroke-width="4.7"/>
<line x1="672.4" y1="954.2" x2="1011" y2="954.2" stroke-width="4.7"/>
<line x1="672.4" y1="870.74" x2="686.6" y2="870.74" stroke-width="4.7"/>
<line x1="672.4" y1="787.28" x2="686.6" y2="787.28" stroke-width="4.7"/>
<line x1="672.4" y1="703.81" x2="686.6" y2="703.81" stroke-width="4.7"/>
<line x1="672.4" y1="620.35" x2="686.6" y2="620.35" stroke-width="4.7"/>
<line x1="726.7" y1="954.2" x2="726.7" y2="968.9" stroke-width="4.7"/>
<line x1="786.8" y1="954.2" x2="786.8" y2="968.9" stroke-width="4.7"/>
<line x1="847.6" y1="954.2" x2="847.6" y2="968.9" stroke-width="4.7"/>
<line x1="907.4" y1="954.2" x2="907.4" y2="968.9" stroke-width="4.7"/>
<line x1="967.9" y1="954.2" x2="967.9" y2="968.9" stroke-width="4.7"/>
<text class="s" x="668" y="963.5" font-size="26.4" text-anchor="end">0</text>
<text class="s" x="668" y="880.04" font-size="26.4" text-anchor="end">50</text>
<text class="s" x="668" y="796.58" font-size="26.4" text-anchor="end">100</text>
<text class="s" x="668" y="713.11" font-size="26.4" text-anchor="end">150</text>
<text class="s" x="668" y="629.65" font-size="26.4" text-anchor="end">200</text>
<text class="s" transform="translate(608.3 785.5) rotate(-90)" font-size="26.95" text-anchor="middle">Relative expression level of <tspan class="i">dptD</tspan></text>
<text class="s" transform="translate(731.6 997) rotate(-45)" font-size="26.3" text-anchor="end">WT</text>
<text class="s" transform="translate(796.1 992.4) rotate(-48)" font-size="26.3" text-anchor="end">XM296</text>
<text class="s" transform="translate(857.8 996.6) rotate(-45)" font-size="26.3" text-anchor="end">XM297</text>
<text class="s" transform="translate(917.6 996.6) rotate(-45)" font-size="26.3" text-anchor="end">XM298</text>
<text class="s" transform="translate(981.1 996.3) rotate(-45)" font-size="26.3" text-anchor="end">XM299</text>
<text class="s" transform="translate(847.7 1086.9) scale(1 1.1)" font-size="29.6" text-anchor="middle">Strains</text>
<polygon points="706.9,954.2 706.9,949.1 708.3,949.1 710.9,946.9 743.3,946.9 745.9,949.1 747,949.1 747,954.2" fill="#000000" stroke="none"/>
<circle cx="787.4" cy="662.9" r="3.35" fill="#000000" stroke="none"/>
<circle cx="787.4" cy="717.2" r="3.35" fill="#000000" stroke="none"/>
<circle cx="787.4" cy="728.9" r="3.35" fill="#000000" stroke="none"/>
<line x1="787.4" y1="682.3" x2="787.4" y2="723.1" stroke-width="1.6"/>
<line x1="777.4" y1="682.3" x2="797.4" y2="682.3" stroke-width="1.6"/>
<line x1="777.4" y1="723.1" x2="797.4" y2="723.1" stroke-width="1.6"/>
<rect x="769.8" y="705.7" width="35.3" height="248.5" fill="none" stroke-width="4.6"/>
<circle cx="841.1" cy="865.6" r="3.35" fill="#000000" stroke="none"/>
<circle cx="841.1" cy="874.4" r="3.35" fill="#000000" stroke="none"/>
<circle cx="854" cy="869.5" r="3.35" fill="#000000" stroke="none"/>
<line x1="849.5" y1="867.9" x2="849.5" y2="871" stroke-width="1.6"/>
<line x1="841.5" y1="867.9" x2="857.5" y2="867.9" stroke-width="1.6"/>
<line x1="841.5" y1="871" x2="857.5" y2="871" stroke-width="1.6"/>
<rect x="829.9" y="872.3" width="35.3" height="81.9" fill="none" stroke-width="4.6"/>
<circle cx="907.7" cy="843.8" r="3.35" fill="#000000" stroke="none"/>
<circle cx="901.2" cy="853.8" r="3.35" fill="#000000" stroke="none"/>
<circle cx="915" cy="852.6" r="3.35" fill="#000000" stroke="none"/>
<line x1="908" y1="846.8" x2="908" y2="853.5" stroke-width="1.6"/>
<line x1="898" y1="846.8" x2="918" y2="846.8" stroke-width="1.6"/>
<line x1="898" y1="853.5" x2="918" y2="853.5" stroke-width="1.6"/>
<rect x="890.3" y="852.6" width="35.6" height="101.6" fill="none" stroke-width="4.6"/>
<circle cx="962" cy="883.2" r="3.35" fill="#000000" stroke="none"/>
<circle cx="962" cy="893.7" r="3.35" fill="#000000" stroke="none"/>
<circle cx="975" cy="887.5" r="3.35" fill="#000000" stroke="none"/>
<line x1="970" y1="885" x2="970" y2="889" stroke-width="1.6"/>
<line x1="962" y1="885" x2="978" y2="885" stroke-width="1.6"/>
<line x1="962" y1="889" x2="978" y2="889" stroke-width="1.6"/>
<rect x="950.5" y="890.2" width="35" height="64" fill="none" stroke-width="4.6"/>
<polyline points="719.9,571.3 719.9,555.2 969.9,555.2 969.9,571.3" stroke-width="4.6" fill="none" stroke-linejoin="miter"/>
<text class="s" transform="translate(844.04 560.1) scale(0.89 1)" font-size="34.9" text-anchor="middle" letter-spacing="0.1">**</text>
<polyline points="719.9,599.8 719.9,583.7 896.6,583.7 896.6,599.8" stroke-width="4.6" fill="none" stroke-linejoin="miter"/>
<text class="s" transform="translate(827.64 588.9) scale(0.89 1)" font-size="34.9" text-anchor="middle" letter-spacing="0.1">****</text>
<polyline points="719.9,627 719.9,611.5 845.2,611.5 845.2,627" stroke-width="4.6" fill="none" stroke-linejoin="miter"/>
<text class="s" transform="translate(786.04 615.3) scale(0.89 1)" font-size="34.9" text-anchor="middle" letter-spacing="0.1">***</text>
<polyline points="719.9,655.6 719.9,639.7 786,639.7 786,655.6" stroke-width="4.6" fill="none" stroke-linejoin="miter"/>
<text class="s" transform="translate(761.04 642.3) scale(0.89 1)" font-size="34.9" text-anchor="middle" letter-spacing="0.1">****</text>
</g>
<g id="panelF">
<line x1="1192.6" y1="622.05" x2="1192.6" y2="955.15" stroke-width="4.7"/>
<line x1="1177.6" y1="952.8" x2="1523.1" y2="952.8" stroke-width="4.7"/>
<line x1="1177.6" y1="843.33" x2="1192.6" y2="843.33" stroke-width="4.7"/>
<line x1="1177.6" y1="733.87" x2="1192.6" y2="733.87" stroke-width="4.7"/>
<line x1="1177.6" y1="624.4" x2="1192.6" y2="624.4" stroke-width="4.7"/>
<line x1="1233.3" y1="952.8" x2="1233.3" y2="967.7" stroke-width="4.7"/>
<line x1="1295.1" y1="952.8" x2="1295.1" y2="967.7" stroke-width="4.7"/>
<line x1="1355.9" y1="952.8" x2="1355.9" y2="967.7" stroke-width="4.7"/>
<line x1="1417.5" y1="952.8" x2="1417.5" y2="967.7" stroke-width="4.7"/>
<line x1="1479.1" y1="952.8" x2="1479.1" y2="967.7" stroke-width="4.7"/>
<text class="s" x="1173.2" y="962.1" font-size="26.4" text-anchor="end">0</text>
<text class="s" x="1173.2" y="852.63" font-size="26.4" text-anchor="end">50</text>
<text class="s" x="1173.2" y="743.17" font-size="26.4" text-anchor="end">100</text>
<text class="s" x="1173.2" y="633.7" font-size="26.4" text-anchor="end">150</text>
<text class="s" transform="translate(1117.2 786.2) rotate(-90)" font-size="26.55" text-anchor="middle">Relative expression level of <tspan class="i">dptE</tspan></text>
<text class="s" transform="translate(1242 991.7) rotate(-45)" font-size="26.3" text-anchor="end">WT</text>
<text class="s" transform="translate(1302.4 992.2) rotate(-47)" font-size="26.3" text-anchor="end">XM296</text>
<text class="s" transform="translate(1364.1 993.8) rotate(-45)" font-size="26.3" text-anchor="end">XM297</text>
<text class="s" transform="translate(1425.2 994.2) rotate(-45)" font-size="26.3" text-anchor="end">XM298</text>
<text class="s" transform="translate(1486.4 995.1) rotate(-45)" font-size="26.3" text-anchor="end">XM299</text>
<text class="s" transform="translate(1356.9 1090.5) scale(1 1.1)" font-size="29.6" text-anchor="middle">Strains</text>
<polygon points="1213.4,952.8 1213.4,948.2 1215.2,948.2 1217.8,945.9 1249.5,945.9 1252.1,948.2 1254.1,948.2 1254.1,952.8" fill="#000000" stroke="none"/>
<circle cx="1288.9" cy="737.2" r="3.35" fill="#000000" stroke="none"/>
<circle cx="1301.8" cy="738" r="3.35" fill="#000000" stroke="none"/>
<circle cx="1295.7" cy="773.2" r="3.35" fill="#000000" stroke="none"/>
<line x1="1295.7" y1="737.2" x2="1295.7" y2="761.2" stroke-width="1.6"/>
<line x1="1285.7" y1="737.2" x2="1305.7" y2="737.2" stroke-width="1.6"/>
<line x1="1285.7" y1="761.2" x2="1305.7" y2="761.2" stroke-width="1.6"/>
<rect x="1277.4" y="752.1" width="35.9" height="200.7" fill="none" stroke-width="4.6"/>
<circle cx="1350" cy="845.9" r="3.35" fill="#000000" stroke="none"/>
<circle cx="1363.2" cy="845.9" r="3.35" fill="#000000" stroke="none"/>
<circle cx="1356.4" cy="856.2" r="3.35" fill="#000000" stroke="none"/>
<line x1="1356.4" y1="847.4" x2="1356.4" y2="853" stroke-width="1.6"/>
<line x1="1348.4" y1="847.4" x2="1364.4" y2="847.4" stroke-width="1.6"/>
<line x1="1348.4" y1="853" x2="1364.4" y2="853" stroke-width="1.6"/>
<rect x="1338.5" y="852.6" width="35.6" height="100.2" fill="none" stroke-width="4.6"/>
<circle cx="1411.6" cy="859.7" r="3.35" fill="#000000" stroke="none"/>
<circle cx="1424.8" cy="867.9" r="3.35" fill="#000000" stroke="none"/>
<circle cx="1418" cy="873.8" r="3.35" fill="#000000" stroke="none"/>
<line x1="1418" y1="862" x2="1418" y2="871" stroke-width="1.6"/>
<line x1="1408" y1="862" x2="1428" y2="862" stroke-width="1.6"/>
<line x1="1408" y1="871" x2="1428" y2="871" stroke-width="1.6"/>
<rect x="1400.1" y="868.7" width="36.2" height="84.1" fill="none" stroke-width="4.6"/>
<circle cx="1473.2" cy="915.7" r="3.35" fill="#000000" stroke="none"/>
<circle cx="1473.2" cy="925.7" r="3.35" fill="#000000" stroke="none"/>
<circle cx="1486.4" cy="919.8" r="3.35" fill="#000000" stroke="none"/>
<line x1="1480" y1="917.2" x2="1480" y2="923" stroke-width="1.6"/>
<line x1="1472" y1="917.2" x2="1488" y2="917.2" stroke-width="1.6"/>
<line x1="1472" y1="923" x2="1488" y2="923" stroke-width="1.6"/>
<rect x="1461.4" y="922.4" width="35.9" height="30.4" fill="none" stroke-width="4.6"/>
<polyline points="1239.3,656.5 1239.3,640.3 1485,640.3 1485,656.5" stroke-width="4.6" fill="none" stroke-linejoin="miter"/>
<text class="s" transform="translate(1352.94 644.7) scale(0.89 1)" font-size="34.9" text-anchor="middle" letter-spacing="0.1">*</text>
<polyline points="1239.3,681.4 1239.3,665.8 1419.5,665.8 1419.5,681.4" stroke-width="4.6" fill="none" stroke-linejoin="miter"/>
<text class="s" transform="translate(1344.04 671.1) scale(0.89 1)" font-size="34.9" text-anchor="middle" letter-spacing="0.1">****</text>
<polyline points="1239.3,706.3 1239.3,690.8 1360.2,690.8 1360.2,706.3" stroke-width="4.6" fill="none" stroke-linejoin="miter"/>
<text class="s" transform="translate(1310.94 696.9) scale(0.89 1)" font-size="34.9" text-anchor="middle" letter-spacing="0.1">****</text>
<polyline points="1239.3,734.2 1239.3,719 1294.8,719 1294.8,734.2" stroke-width="4.6" fill="none" stroke-linejoin="miter"/>
<text class="s" transform="translate(1276.04 722.4) scale(0.89 1)" font-size="34.9" text-anchor="middle" letter-spacing="0.1">****</text>
</g>
</svg>
</body></html>
